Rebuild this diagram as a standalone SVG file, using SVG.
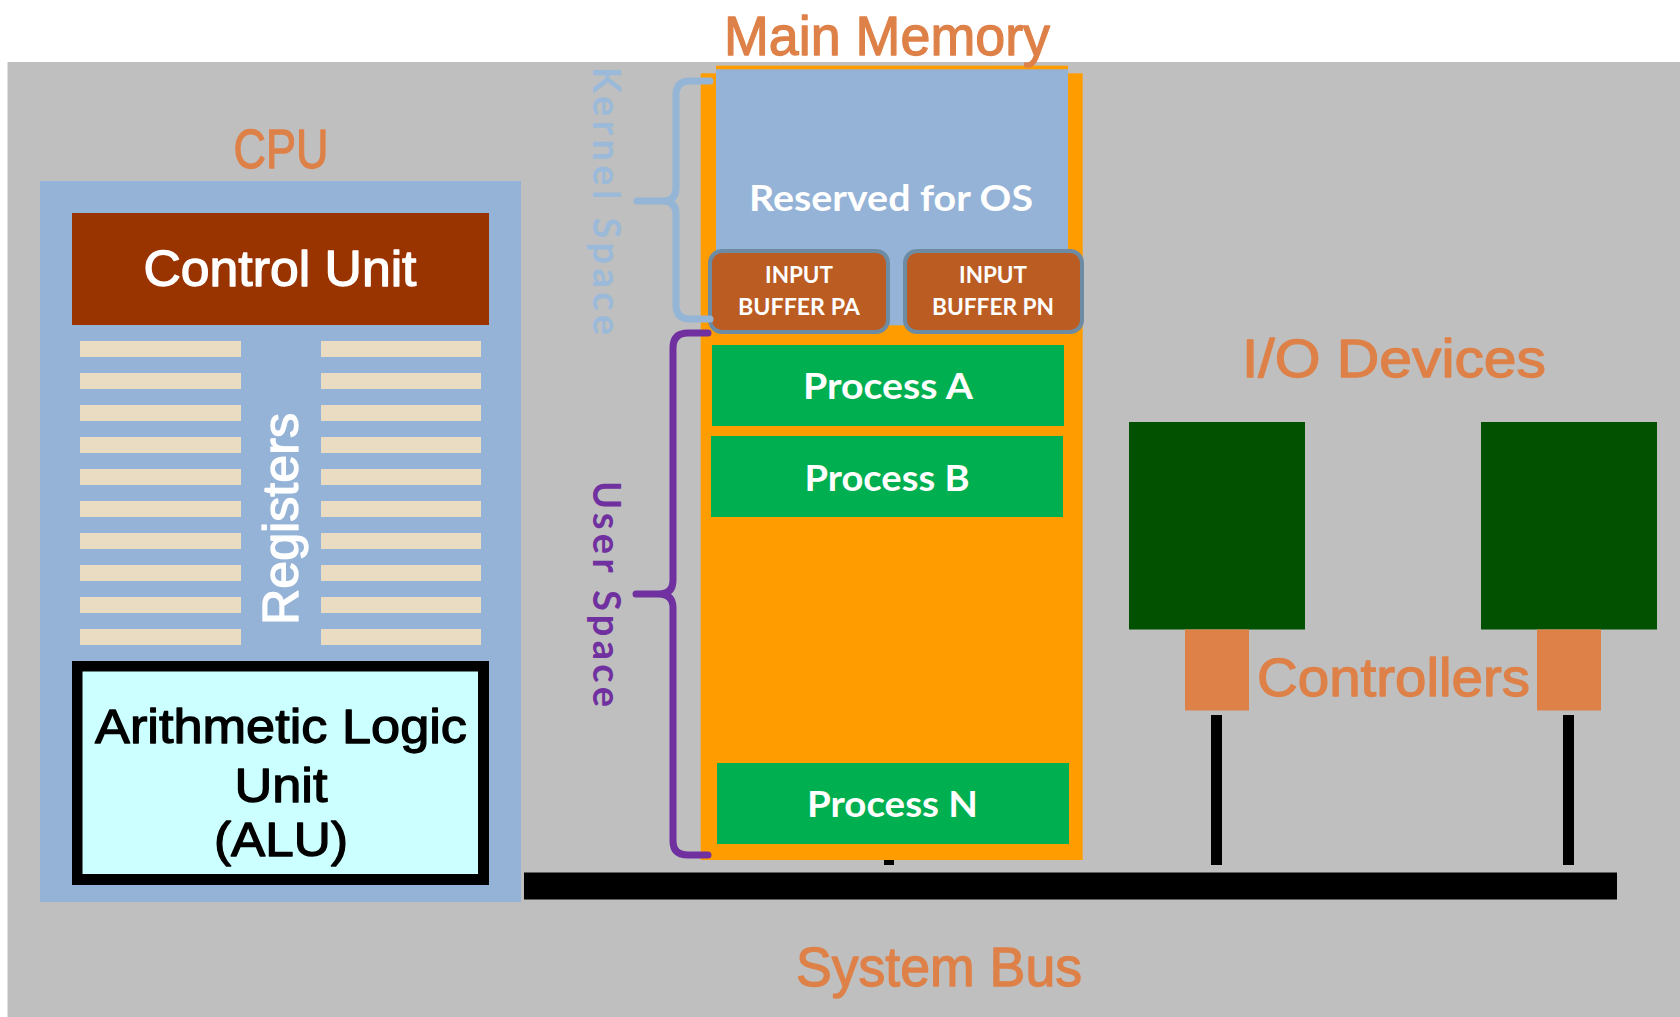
<svg xmlns="http://www.w3.org/2000/svg" width="1680" height="1017" viewBox="0 0 1680 1017">
<style>
.comic{font-family:"Liberation Sans","DejaVu Sans",sans-serif;text-anchor:middle;stroke-width:1.3;stroke-linejoin:round}
.lbl{fill:#de8148;stroke:#de8148}
.wt{fill:#ffffff;stroke:#ffffff}
.bk{fill:#000000;stroke:#000000}
.bold{font-family:Lato,"Open Sans","Liberation Sans",sans-serif;font-weight:bold;fill:#ffffff;text-anchor:middle}
.bar{fill:#e9dcc3}
.proc{fill:#00b050}
.buf{fill:#bb5c23;stroke:#6d8ca4;stroke-width:4}
.dev{fill:#015101}
.ctl{fill:#de8148}
.wire{fill:#000000}
.brace{fill:none;stroke-width:7;stroke-linecap:round;stroke-linejoin:round}
.vert{font-family:Lato,"DejaVu Sans",sans-serif;font-weight:bold;font-size:38px;text-anchor:middle}
</style>
<rect x="0" y="0" width="1680" height="1017" fill="#ffffff"/>
<rect x="7.5" y="62" width="1672.5" height="955" fill="#bfbfbf"/>

<g id="cpu">
  <rect x="40" y="181" width="481" height="721" fill="#95b3d7"/>
  <text class="comic lbl" x="281" y="168" font-size="56" textLength="95" lengthAdjust="spacingAndGlyphs">CPU</text>
</g>
<g id="control-unit">
  <rect x="72" y="213" width="417" height="112" fill="#993300"/>
  <text class="comic wt" x="280" y="286" font-size="50" textLength="273" lengthAdjust="spacingAndGlyphs">Control Unit</text>
</g>
<g id="registers">
  <rect class="bar" x="80" y="341" width="161" height="16"/><rect class="bar" x="321" y="341" width="160" height="16"/>
  <rect class="bar" x="80" y="373" width="161" height="16"/><rect class="bar" x="321" y="373" width="160" height="16"/>
  <rect class="bar" x="80" y="405" width="161" height="16"/><rect class="bar" x="321" y="405" width="160" height="16"/>
  <rect class="bar" x="80" y="437" width="161" height="16"/><rect class="bar" x="321" y="437" width="160" height="16"/>
  <rect class="bar" x="80" y="469" width="161" height="16"/><rect class="bar" x="321" y="469" width="160" height="16"/>
  <rect class="bar" x="80" y="501" width="161" height="16"/><rect class="bar" x="321" y="501" width="160" height="16"/>
  <rect class="bar" x="80" y="533" width="161" height="16"/><rect class="bar" x="321" y="533" width="160" height="16"/>
  <rect class="bar" x="80" y="565" width="161" height="16"/><rect class="bar" x="321" y="565" width="160" height="16"/>
  <rect class="bar" x="80" y="597" width="161" height="16"/><rect class="bar" x="321" y="597" width="160" height="16"/>
  <rect class="bar" x="80" y="629" width="161" height="16"/><rect class="bar" x="321" y="629" width="160" height="16"/>
  <text class="comic wt" transform="translate(298,519) rotate(-90)" x="0" y="0" font-size="50" textLength="212" lengthAdjust="spacingAndGlyphs">Registers</text>
</g>
<g id="alu">
  <rect x="72" y="661" width="417" height="224" fill="#000000"/>
  <rect x="82.5" y="671.5" width="395.5" height="202.5" fill="#ccffff"/>
  <text class="comic bk" x="281" y="743" font-size="49" textLength="372" lengthAdjust="spacingAndGlyphs">Arithmetic Logic</text>
  <text class="comic bk" x="281" y="802" font-size="49" textLength="93" lengthAdjust="spacingAndGlyphs">Unit</text>
  <text class="comic bk" x="281" y="856" font-size="49" textLength="134" lengthAdjust="spacingAndGlyphs">(ALU)</text>
</g>

<g id="main-memory">
  <rect x="716" y="65.7" width="352" height="10" fill="#ff9c00"/>
  <rect x="700.7" y="73.3" width="382" height="786.7" fill="#ff9c00"/>
  <text class="comic lbl" x="887" y="55" font-size="56" textLength="326" lengthAdjust="spacingAndGlyphs">Main Memory</text>
</g>
<g id="reserved-os">
  <rect x="716" y="69.3" width="352" height="256" fill="#95b3d7"/>
  <text class="bold" x="891" y="211" font-size="36" textLength="284" lengthAdjust="spacingAndGlyphs">Reserved for OS</text>
</g>
<g id="buffer-pa">
  <rect class="buf" x="710" y="251" width="178" height="81" rx="12"/>
  <text class="bold" x="799" y="283" font-size="23" textLength="68" lengthAdjust="spacingAndGlyphs">INPUT</text>
  <text class="bold" x="799" y="315" font-size="23" textLength="122" lengthAdjust="spacingAndGlyphs">BUFFER PA</text>
</g>
<g id="buffer-pn">
  <rect class="buf" x="905" y="251" width="177" height="81" rx="12"/>
  <text class="bold" x="993" y="283" font-size="23" textLength="68" lengthAdjust="spacingAndGlyphs">INPUT</text>
  <text class="bold" x="993" y="315" font-size="23" textLength="122" lengthAdjust="spacingAndGlyphs">BUFFER PN</text>
</g>
<g id="process-a">
  <rect class="proc" x="712" y="345" width="352" height="81"/>
  <text class="bold" x="888" y="399" font-size="37" textLength="170" lengthAdjust="spacingAndGlyphs">Process A</text>
</g>
<g id="process-b">
  <rect class="proc" x="711" y="436" width="352" height="81"/>
  <text class="bold" x="887" y="491" font-size="37" textLength="165" lengthAdjust="spacingAndGlyphs">Process B</text>
</g>
<g id="process-n">
  <rect class="proc" x="717" y="763" width="352" height="81"/>
  <text class="bold" x="892.5" y="817" font-size="37" textLength="171" lengthAdjust="spacingAndGlyphs">Process N</text>
</g>

<g id="kernel-space">
  <path class="brace" stroke="#95b5d6" d="M710,81 H690 Q676,81 676,95 V188 Q676,201 663,201 H637 M663,201 Q676,201 676,214 V305 Q676,319 690,319 H710"/>
  <text class="vert" fill="#9bbad9" transform="translate(593,201) rotate(90)" x="0" y="0" textLength="268" lengthAdjust="spacing">Kernel Space</text>
</g>
<g id="user-space">
  <path class="brace" stroke="#7030a0" d="M708,333 H688 Q673,333 673,348 V580 Q673,594 659,594 H636 M659,594 Q673,594 673,608 V841 Q673,855 688,855 H708"/>
  <text class="vert" fill="#7030a0" transform="translate(593,594) rotate(90)" x="0" y="0" textLength="226" lengthAdjust="spacing">User Space</text>
</g>

<g id="io-devices">
  <text class="comic lbl" x="1394" y="377" font-size="53" textLength="304" lengthAdjust="spacingAndGlyphs">I/O Devices</text>
</g>
<g id="io-device-1"><rect class="dev" x="1129" y="422" width="176" height="207.5"/></g>
<g id="io-device-2"><rect class="dev" x="1481" y="422" width="176" height="207.5"/></g>
<g id="controller-1"><rect class="ctl" x="1185" y="629.5" width="64" height="81"/></g>
<g id="controller-2"><rect class="ctl" x="1537" y="629.5" width="64" height="81"/></g>
<g id="controllers-label">
  <text class="comic lbl" x="1393.5" y="696" font-size="53" textLength="273" lengthAdjust="spacingAndGlyphs">Controllers</text>
</g>

<g id="connectors">
  <rect class="wire" x="884" y="860" width="10" height="5"/>
  <rect class="wire" x="1211" y="715" width="11" height="150"/>
  <rect class="wire" x="1563" y="715" width="11" height="150"/>
  <rect class="wire" x="524" y="872.5" width="1093" height="27"/>
</g>
<g id="system-bus">
  <text class="comic lbl" x="939" y="986" font-size="56" textLength="286" lengthAdjust="spacingAndGlyphs">System Bus</text>
</g>
</svg>
